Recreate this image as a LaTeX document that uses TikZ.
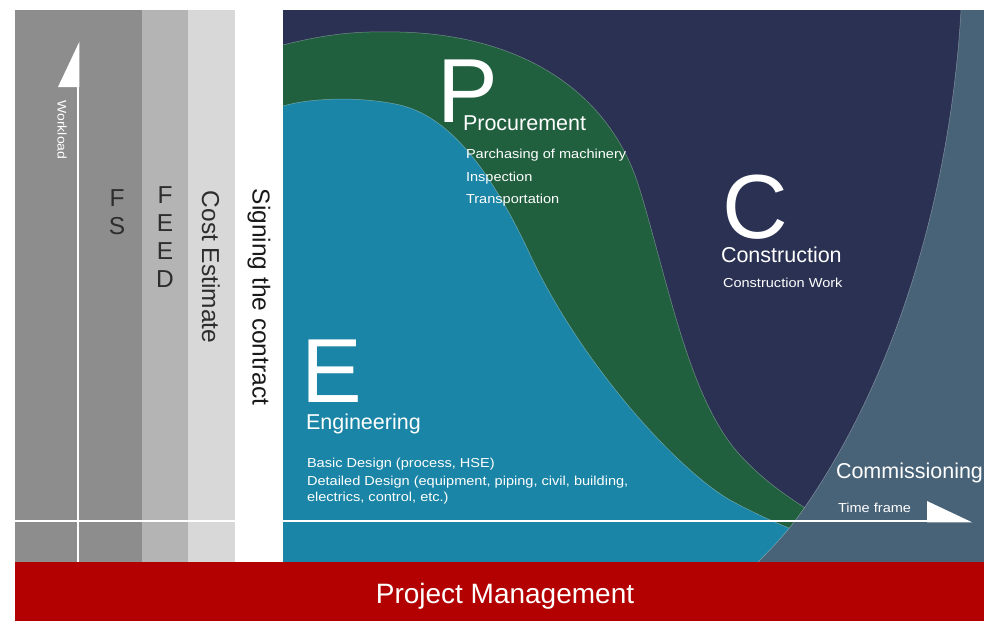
\documentclass[tikz,border=0pt]{standalone}
\usepackage{fontspec}
\setmainfont{Liberation Sans}
\newfontfamily\widesans[FakeStretch=1.12]{Liberation Sans}
\definecolor{navyC}{RGB}{42,49,82}
\definecolor{greenP}{RGB}{33,96,63}
\definecolor{tealE}{RGB}{26,133,166}
\definecolor{slateK}{RGB}{72,99,120}
\definecolor{redPM}{RGB}{179,0,0}
\definecolor{grayA}{RGB}{141,141,141}
\definecolor{grayB}{RGB}{180,180,180}
\definecolor{grayC}{RGB}{216,216,216}
\definecolor{inkgray}{RGB}{45,45,45}
\newcommand{\fsz}[1]{\fontsize{#1}{#1}\selectfont}
% outlines of the three phase waves
\newcommand{\procwave}{(283,45) .. controls (330,33) and (360,31) .. (400,32)
  .. controls (520,35) and (610,90) .. (640,190)
  .. controls (670,290) and (690,400) .. (740,455)
  .. controls (765,482) and (790,500) .. (845,532)}
\newcommand{\engwave}{(283,106) .. controls (310,98) and (360,96) .. (400,105)
  .. controls (450,117) and (490,170) .. (528,250)
  .. controls (578,360) and (675,468) .. (730,500)
  .. controls (770,522) and (800,532) .. (835,547)}
\newcommand{\commwave}{(961,10) .. controls (950,200) and (893,383) .. (800,514)
  .. controls (785,535) and (770,550) .. (752,568)}
\begin{document}
\begin{tikzpicture}[x=1pt,y=-1pt,
  txt/.style={inner sep=0pt,outer sep=0pt,text=white},
  bigletter/.style={txt,anchor=base west,font=\fsz{91}},
  phase/.style={txt,anchor=base west,font=\fsz{21.5}},
  detail/.style={txt,anchor=base west,font=\widesans\fsz{13}},
  sidelabel/.style={inner sep=0pt,text=inkgray,font=\fsz{24.5}},
  seam/.style={white,opacity=0.35,line width=0.5pt},
  axisline/.style={white,line width=2.5pt}]
\useasboundingbox (0,0) rectangle (984,621);
\fill[white] (0,0) rectangle (984,621);

% pre-contract columns
\fill[grayA] (15,10) rectangle (142,562);
\fill[grayB] (142,10) rectangle (188,562);
\fill[grayC] (188,10) rectangle (235,562);

% phase area
\fill[navyC] (283,10) rectangle (984,562);
\fill[greenP] (283,562) -- \procwave -- (845,562) -- cycle;
\draw[seam] \procwave;
\fill[tealE] (283,562) -- \engwave -- (835,562) -- cycle;
\draw[seam] \engwave;
\fill[slateK] (984,10) -- \commwave -- (984,568) -- cycle;
\draw[seam] \commwave;

% axes
\coordinate (wl-base) at (78,87);
\coordinate (wl-foot) at (78,562);
\coordinate (tf-left) at (15,521);
\coordinate (tf-gapL) at (235,521);
\coordinate (tf-gapR) at (283,521);
\coordinate (tf-head) at (927,521);
\draw[axisline] (wl-foot) -- (wl-base);
\fill[white] (79.25,42) -- (79.25,87) -- (58,87) -- cycle;
\draw[axisline] (tf-left) -- (tf-gapL);
\draw[axisline] (tf-gapR) -- (tf-head);
\fill[white] (927,501) -- (972,522.25) -- (927,522.25) -- cycle;

% project management bar
\fill[redPM] (15,562) rectangle (984,621);
\node[txt,anchor=base,font=\fsz{28}] (pm) at (505,603) {Project Management};

% side labels
\node[txt,font=\widesans\fsz{12.5},rotate=-90] (workload) at (62,130) {Workload};
\node[sidelabel,align=center] (fs) at (117,212) {F\\[3.5pt]S};
\node[sidelabel,align=center] (feed) at (165,237) {F\\[3.5pt]E\\[3.5pt]E\\[3.5pt]D};
\node[sidelabel,rotate=-90] (cost) at (211,267) {Cost Estimate};
\node[sidelabel,rotate=-90,text=black!90] (sign) at (259,297) {Signing the contract};

% procurement
\node[bigletter] (bigP) at (437,122) {P};
\node[phase] (proc) at (463,130) {Procurement};
\node[detail] (p1) at (466,158) {Parchasing of machinery};
\node[detail] (p2) at (466,181) {Inspection};
\node[detail] (p3) at (466,203) {Transportation};

% engineering
\node[bigletter] (bigE) at (301,402) {E};
\node[phase] (eng) at (306,429) {Engineering};
\node[detail] (e1) at (307,467) {Basic Design (process, HSE)};
\node[detail] (e2) at (307,485) {Detailed Design (equipment, piping, civil, building,};
\node[detail] (e3) at (307,501) {electrics, control, etc.)};

% construction
\node[bigletter] (bigC) at (722,238) {C};
\node[phase] (con) at (721,262) {Construction};
\node[detail] (c1) at (723,287) {Construction Work};

% commissioning
\node[phase] (com) at (836,478) {Commissioning};
\node[detail] (tf) at (838,512) {Time frame};
\end{tikzpicture}
\end{document}
